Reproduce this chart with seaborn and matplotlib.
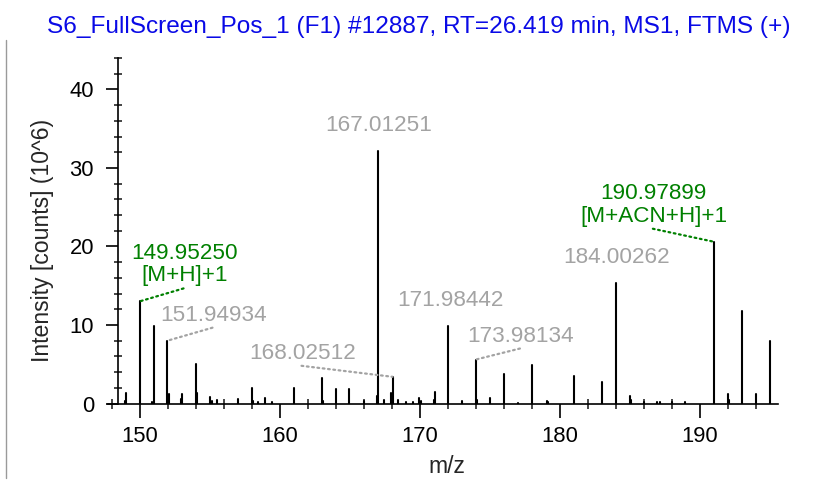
import numpy as np
import pandas as pd
import matplotlib
matplotlib.use("Agg")
import matplotlib.pyplot as plt
from matplotlib.ticker import MultipleLocator, FixedLocator
from matplotlib.lines import Line2D
import seaborn as sns

# ---- spectrum data (intensity in 10^6 counts) ----
title = "S6_FullScreen_Pos_1 (F1) #12887, RT=26.419 min, MS1, FTMS (+)"

mz = [
    148.90, 148.97, 149.95250, 150.82, 150.99, 151.94934, 152.06, 152.88, 152.97,
    153.98, 154.05, 154.96, 155.12, 155.46, 157.00, 157.98, 158.06, 158.44,
    158.93, 159.45, 160.96, 162.98, 163.07, 164.00, 164.95, 165.96, 166.90,
    167.01251, 167.44, 167.93, 168.02512, 168.45, 169.00, 169.47, 169.95,
    170.04, 170.98, 171.07, 171.98442, 172.97, 173.98134, 174.07, 174.96,
    175.98, 177.00, 178.02, 179.05, 179.15, 180.98, 182.97, 184.00262,
    184.97, 185.05, 186.00, 186.95, 187.10, 187.98, 188.95, 190.97899,
    191.98, 192.06, 192.98, 193.99, 194.97,
]
intensity = [
    0.3, 1.4, 13.0, 0.25, 9.9, 8.0, 1.2, 0.6, 1.2,
    5.0, 1.4, 0.8, 0.3, 0.45, 0.55, 2.0, 0.3, 0.2,
    0.65, 0.2, 2.0, 3.2, 0.3, 1.8, 1.9, 0.3, 1.0,
    32.2, 0.43, 1.3, 3.4, 0.5, 0.25, 0.2, 0.65,
    0.3, 0.4, 1.5, 9.9, 0.3, 5.6, 0.5, 0.65,
    3.8, 0.1, 4.9, 0.35, 0.25, 3.5, 2.8, 15.4,
    1.0, 0.4, 0.2, 0.25, 0.2, 0.2, 0.15, 20.6,
    1.2, 0.4, 11.8, 1.2, 8.0,
]

label_mz = [149.95250, 151.94934, 167.01251, 168.02512,
            171.98442, 173.98134, 184.00262, 190.97899]
label_text = ["149.95250\n[M+H]+1", "151.94934", "167.01251", "168.02512",
              "171.98442", "173.98134", "184.00262", "190.97899\n[M+ACN+H]+1"]
label_kind = ["adduct", "mass", "mass", "mass", "mass", "mass", "mass", "adduct"]

x_ticks = [150, 160, 170, 180, 190]
y_ticks = [0, 10, 20, 30, 40]
x_label = "m/z"
y_label = "Intensity [counts] (10^6)"

# ---- styling ----
sns.set_theme(style="ticks")
plt.rcParams["font.family"] = ["Liberation Sans", "DejaVu Sans"]

FS_TICK = 15.8
FS_LABEL = 16.6
FS_PEAK = 16.2
FS_TITLE = 17.6
GRAY = "#a3a3a3"
GREEN = "#008000"
BLUE = "#0a0ae6"

W, H = 819, 501
fig = plt.figure(figsize=(W / 100, H / 100), dpi=100)

# axes frame in pixel terms
left_px, right_px, base_px, top_px = 108, 778, 403.5, 58
ax = fig.add_axes([left_px / W, 1 - base_px / H,
                   (right_px - left_px) / W, (base_px - top_px) / H])

# stems: one vertical segment per peak, drawn as separate units
n = len(mz)
stems = pd.DataFrame({
    "mz": np.repeat(mz, 2),
    "intensity": np.column_stack([np.zeros(n), intensity]).ravel(),
    "peak": np.repeat(np.arange(n), 2),
})
sns.lineplot(data=stems, x="mz", y="intensity", units="peak", estimator=None,
             sort=False, color="black", linewidth=1.5, ax=ax)

ax.set_xlim(147.7, 195.56)
ax.set_ylim(0, 44.0)

for s in ("top", "right"):
    ax.spines[s].set_visible(False)
ax.spines["left"].set_position(("data", 148.38))
for s in ("left", "bottom"):
    ax.spines[s].set_linewidth(1.2)
    ax.spines[s].set_color("black")

ax.xaxis.set_major_locator(FixedLocator(x_ticks))
ax.xaxis.set_minor_locator(MultipleLocator(2))
ax.yaxis.set_major_locator(FixedLocator(y_ticks))
ax.yaxis.set_minor_locator(MultipleLocator(2))
ax.tick_params(axis="x", which="major", direction="out", length=10, width=1.2,
               labelsize=FS_TICK, pad=6, colors="black")
ax.tick_params(axis="x", which="minor", direction="inout", length=7, width=1.2)
ax.tick_params(axis="y", which="major", direction="out", length=9, width=1.2,
               labelsize=FS_TICK, pad=8, colors="black")
ax.tick_params(axis="y", which="minor", direction="inout", length=6, width=1.2)

ax.set_xlabel(x_label, fontsize=FS_LABEL)
ax.set_ylabel(y_label, fontsize=FS_LABEL)
ax.xaxis.set_label_coords(0.506, -0.181)
ax.yaxis.set_label_coords(-0.0985, 0.473)
ax.xaxis.label.set_va("center")
ax.yaxis.label.set_va("center")

# ---- peak labels ----
# (dx, lift) in pixels from the peak top: leader end / text anchor
placement = {
    149.95250: (44, 13),
    151.94934: (45, 13),
    167.01251: (0, None),
    168.02512: (-91, 11),
    171.98442: (2, None),
    173.98134: (44, 11),
    184.00262: (0, None),
    190.97899: (-61, 13),
}
peak_height = dict(zip(mz, intensity))
for m, txt, kind in zip(label_mz, label_text, label_kind):
    h = peak_height[m]
    color = GREEN if kind == "adduct" else GRAY
    dx, lift = placement[m]
    if lift is None:
        ax.annotate(txt, xy=(m, h), xytext=(dx, 15), textcoords="offset pixels",
                    ha="center", va="bottom", fontsize=FS_PEAK, color=color)
    else:
        ax.annotate("", xy=(m, h), xytext=(dx, lift), textcoords="offset pixels",
                    arrowprops=dict(arrowstyle="-", linestyle=(0, (0.8, 1.6)),
                                    color=color, lw=1.6, shrinkA=0, shrinkB=0))
        ax.annotate(txt, xy=(m, h), xytext=(dx + 1, lift + 2),
                    textcoords="offset pixels", ha="center", va="bottom",
                    fontsize=FS_PEAK, color=color, multialignment="center",
                    linespacing=1.08)

fig.text(419 / W, 1 - 33.3 / H, title, ha="center", va="baseline",
         fontsize=FS_TITLE, color=BLUE)

# thin frame line along the left edge of the page
fig.add_artist(Line2D([5.5 / W, 5.5 / W], [1 - 40 / H, 1 - 478 / H],
                      transform=fig.transFigure, color="#9a9a9a", lw=1.0))

fig.savefig("out.png", dpi=100, facecolor="white")
